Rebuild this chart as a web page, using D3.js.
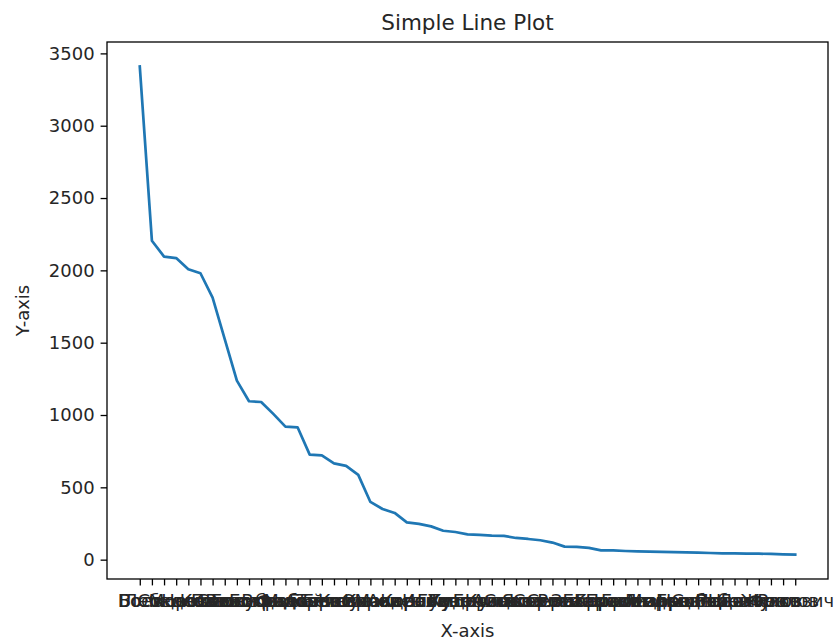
<!DOCTYPE html>
<html>
<head>
<meta charset="utf-8">
<script src="https://cdn.jsdelivr.net/npm/d3@7"></script>
<style>
  body { margin: 0; background: #fff; }
  text { font-family: "DejaVu Sans", sans-serif; fill: #262626; }
</style>
</head>
<body>
<div id="chart"></div>
<script>
// x categories (names) and y values
var names = ["Боев","Волков","Лебедев","Соколов","Морозов","Новиков","Козлов","Павлов","Семенов","Голубев",
  "Виноградов","Богданов","Воробьев","Федоров","Михайлов","Беляев","Тарасов","Белоусов","Комаров","Орлов",
  "Киселев","Макаров","Андреев","Ковалев","Ильин","Гусев","Титов","Кузьмин","Кудрявцев","Баранов",
  "Куликов","Алексеев","Степанов","Яковлев","Сорокин","Сергеев","Романов","Захаров","Борисов","Королев",
  "Герасимов","Пономарев","Григорьев","Лазарев","Медведев","Ершов","Никитин","Соболев","Рябов","Поляков",
  "Цветков","Данилов","Жуков","Фролов","Ракович"]
var values = [3410,2205,2095,2085,2008,1980,1812,1525,1238,1095,
  1090,1008,920,915,726,721,666,648,586,399,
  350,323,258,247,230,200,191,175,171,166,
  164,150,143,134,118,90,88,81,64,64,
  60,57,55,54,52,50,48,46,44,43,
  42,41,40,37,35]
var yTicks = [0,500,1000,1500,2000,2500,3000,3500]

var W = 838, H = 641
var mLeft = 107, mRight = 828, mTop = 42, mBottom = 579

var svg = d3.select("#chart").append("svg").attr("width", W).attr("height", H)

var n = values.length
var x = d3.scalePoint().domain(d3.range(n)).range([mLeft, mRight]).padding(2.7)
var ymin = d3.min(values), ymax = d3.max(values), pad = (ymax - ymin) * 0.05
var y = d3.scaleLinear().domain([ymin - pad, ymax + pad]).range([mBottom, mTop])

// line
var line = d3.line().x(function(d, i){ return x(i) }).y(function(d){ return y(d) })
svg.append("path").datum(values)
  .attr("d", line)
  .attr("fill", "none")
  .attr("stroke", "#1f77b4")
  .attr("stroke-width", 2.7)
  .attr("stroke-linejoin", "round")
  .attr("stroke-linecap", "square")

// y axis
var yAxis = svg.append("g").attr("transform", "translate(" + mLeft + ",0)")
  .call(d3.axisLeft(y).tickValues(yTicks).tickFormat(d3.format("d")).tickSize(6.4).tickPadding(6).tickSizeOuter(0))
yAxis.select(".domain").remove()
yAxis.selectAll("line").attr("stroke", "#000").attr("stroke-width", 1.3)
yAxis.selectAll("text").attr("font-size", 18).attr("font-family", "DejaVu Sans").attr("fill", "#262626")

// x axis
var xAxis = svg.append("g").attr("transform", "translate(0," + mBottom + ")")
  .call(d3.axisBottom(x).tickFormat(function(i){ return names[i] }).tickSize(6.4).tickPadding(9).tickSizeOuter(0))
xAxis.select(".domain").remove()
xAxis.selectAll("line").attr("stroke", "#000").attr("stroke-width", 1.3)
xAxis.selectAll("text").attr("font-size", 18).attr("font-family", "DejaVu Sans").attr("fill", "#262626")

// frame
svg.append("rect")
  .attr("x", mLeft).attr("y", mTop)
  .attr("width", mRight - mLeft).attr("height", mBottom - mTop)
  .attr("fill", "none").attr("stroke", "#000").attr("stroke-width", 1.3)

// title and axis labels
svg.append("text").text("Simple Line Plot")
  .attr("x", (mLeft + mRight) / 2).attr("y", 30)
  .attr("text-anchor", "middle").attr("font-size", 21.5)
svg.append("text").text("X-axis")
  .attr("x", (mLeft + mRight) / 2).attr("y", 637)
  .attr("text-anchor", "middle").attr("font-size", 18)
svg.append("text").text("Y-axis")
  .attr("transform", "translate(29," + (mTop + mBottom) / 2 + ") rotate(-90)")
  .attr("text-anchor", "middle").attr("font-size", 18)
</script>
</body>
</html>
